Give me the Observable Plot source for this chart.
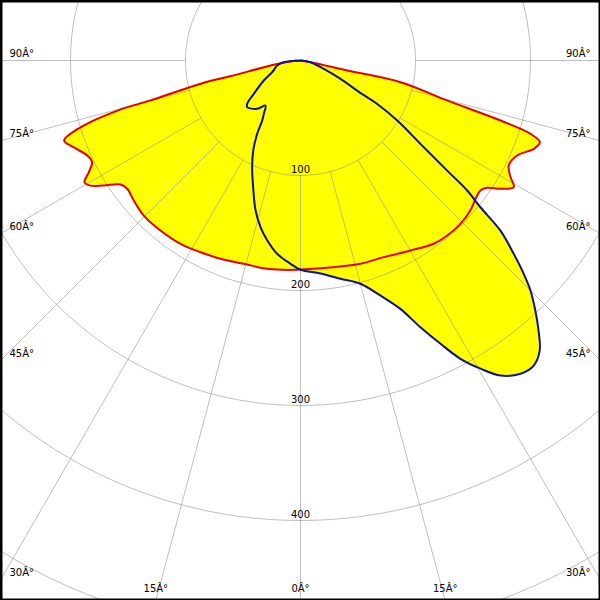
<!DOCTYPE html>
<html>
<head>
<meta charset="utf-8">
<script src="https://cdn.jsdelivr.net/npm/d3@7"></script>
<script src="https://cdn.jsdelivr.net/npm/@observablehq/plot@0.6"></script>
<style>
  html, body { margin: 0; padding: 0; background: #fff; }
  svg { display: block; }
</style>
</head>
<body>
<div id="chart"></div>
<script>
// ---- data ----
const ringValues = [100, 200, 300, 400, 500];
const ringLabels = ["100", "200", "300", "400"];
const angleTicks = [-90, -75, -60, -45, -30, -15, 0, 15, 30, 45, 60, 75, 90];
const angleTickLabels = ["90Â°", "75Â°", "60Â°", "45Â°", "30Â°", "15Â°", "0Â°", "15Â°", "30Â°", "45Â°", "60Â°", "75Â°", "90Â°"];

// C0-C180 plane (red); negative gamma = left half
const redGamma = [-90, -86, -80.9, -77.4, -76.9, -75.1, -74.7, -73.1, -71.3, -69, -66, -64, -62.2, -60.6, -59.2, -57.6, -55.4, -53.5, -50, -45.3, -39.5, -33.2, -27.5, -22, -15.6, -9, -1,
  0, 9.15, 16.44, 22.95, 30.07, 36.03, 39.97, 44.4, 48.6, 51.67, 54.16, 55.7, 57.3, 59.3, 60.94, 63.25, 66.33, 69.27, 71.15, 72.3, 73.3, 74.75, 77.76, 78, 80.4, 90];
const redCd = [0, 8, 23.5, 62, 89, 135, 165, 200, 217, 211, 203, 201.6, 208, 215.6, 212.5, 202.7, 190, 187.5, 189.3, 191.7, 191.5, 190.5, 188, 186, 183.5, 183.4, 182,
  181.7, 182, 184.3, 185.7, 190.9, 197, 198.6, 198.8, 197, 194, 193, 196.5, 206.6, 215.7, 209, 202.8, 205.7, 217, 220, 210, 181.6, 132, 89, 44, 8.8, 0];

// C90-C270 plane (blue); negative gamma = left half
const blueGamma = [-90, -84.2, -77.9, -67.5, -61.4, -54.5, -50.9, -48.8, -41.9, -37.9, -34.5, -32.5, -30.6, -27.7, -24.4, -20.5, -16.7, -13.5, -10.5, -6.9, -2.8,
  0, 5.36, 10.4, 15, 18.8, 21.9, 24.2, 26.3, 28.2, 30.3, 32.4, 35.1, 37.4, 39.5, 41.4, 43.2, 45, 46.3, 47.8, 49.6, 50.8, 52.05, 53.1, 55.2, 58.2, 60.5, 61.5, 65.4, 70.4, 80, 90];
const blueCd = [0, 14.6, 20.7, 26.6, 36.3, 49.9, 59.7, 61.6, 56.4, 49.6, 56.3, 62, 74, 88.4, 101.8, 117.6, 136, 149, 159, 169.3, 177,
  182, 186, 193, 201, 216, 232.8, 254.3, 274.8, 294.3, 310.4, 324.5, 332.9, 333.9, 327, 313, 298.3, 282.8, 268.5, 250.3, 228.3, 201.9, 183.8, 159.5, 127, 99, 76, 60, 38.3, 21.5, 8.8, 0];

// ---- geometry ----
const W = 600, H = 600, CX = 300, CY = 60, K = 1.15; // px per cd unit
const xDom = [-CX / K, (W - CX) / K];
const yDom = [-CY / K, (H - CY) / K];
const rad = d => d * Math.PI / 180;
const toXY = (g, v) => ({x: v * Math.sin(rad(g)), y: v * Math.cos(rad(g))});

const redPts = redGamma.map((g, i) => toXY(g, redCd[i]));
const bluePts = blueGamma.map((g, i) => toXY(g, blueCd[i]));

const ringPts = ringValues.flatMap(r => d3.range(0, 361, 2).map(a => ({r, ...toXY(a, r)})));
const spokes = angleTicks.map(a => {
  const p1 = toXY(a, ringValues[0]), p2 = toXY(a, 900);
  return {x1: p1.x, y1: p1.y, x2: p2.x, y2: p2.y};
});
const ringText = ringLabels.map((t, i) => ({t, x: 0, y: ringValues[i]}));

const leftLab = [], rightLab = [], bottomLab = [];
angleTicks.forEach((a, i) => {
  const s = Math.sin(rad(a)), c = Math.cos(rad(a));
  const tSide = Math.abs(s) > 1e-9 ? xDom[1] / Math.abs(s) : Infinity;
  const tBot = c > 1e-9 ? yDom[1] / c : Infinity;
  const t = angleTickLabels[i];
  if (tSide <= tBot) {
    (a < 0 ? leftLab : rightLab).push({t, x: a < 0 ? xDom[0] : xDom[1], y: tSide * c});
  } else {
    bottomLab.push({t, x: tBot * s, y: yDom[1]});
  }
});

const font = "DejaVu Sans";
const grid = {stroke: "#8a8a8a", strokeOpacity: 0.55, strokeWidth: 1};
const curve = "catmull-rom";

const chart = Plot.plot({
  width: W, height: H,
  margin: 0, marginTop: 0, marginRight: 0, marginBottom: 0, marginLeft: 0,
  x: {domain: xDom, range: [0, W], axis: null},
  y: {domain: yDom, range: [0, H], axis: null},
  style: {background: "#fff", fontFamily: font},
  marks: [
    Plot.line(redPts, {x: "x", y: "y", curve, fill: "#ffff00", stroke: "none"}),
    Plot.line(bluePts, {x: "x", y: "y", curve, fill: "#ffff00", stroke: "none"}),
    Plot.line(ringPts, {x: "x", y: "y", z: "r", ...grid, clip: true}),
    Plot.link(spokes, {x1: "x1", y1: "y1", x2: "x2", y2: "y2", ...grid, clip: true}),
    Plot.line(redPts, {x: "x", y: "y", curve, stroke: "#e60000", strokeWidth: 2, strokeLinejoin: "round"}),
    Plot.line(bluePts, {x: "x", y: "y", curve, stroke: "#10109a", strokeWidth: 2, strokeLinejoin: "round"}),
    Plot.text(ringText, {x: "x", y: "y", text: "t", dy: -6, fontSize: 10, fontFamily: font, fill: "#000"}),
    Plot.text(leftLab, {x: "x", y: "y", text: "t", dx: 9, dy: -7, textAnchor: "start", fontSize: 10, fontFamily: font, fill: "#000"}),
    Plot.text(rightLab, {x: "x", y: "y", text: "t", dx: -10, dy: -7, textAnchor: "end", fontSize: 10, fontFamily: font, fill: "#000"}),
    Plot.text(bottomLab, {x: "x", y: "y", text: "t", dy: -12, textAnchor: "middle", fontSize: 10, fontFamily: font, fill: "#000"}),
    Plot.frame({stroke: "#000", strokeWidth: 4})
  ]
});
document.getElementById("chart").append(chart);
</script>
</body>
</html>
